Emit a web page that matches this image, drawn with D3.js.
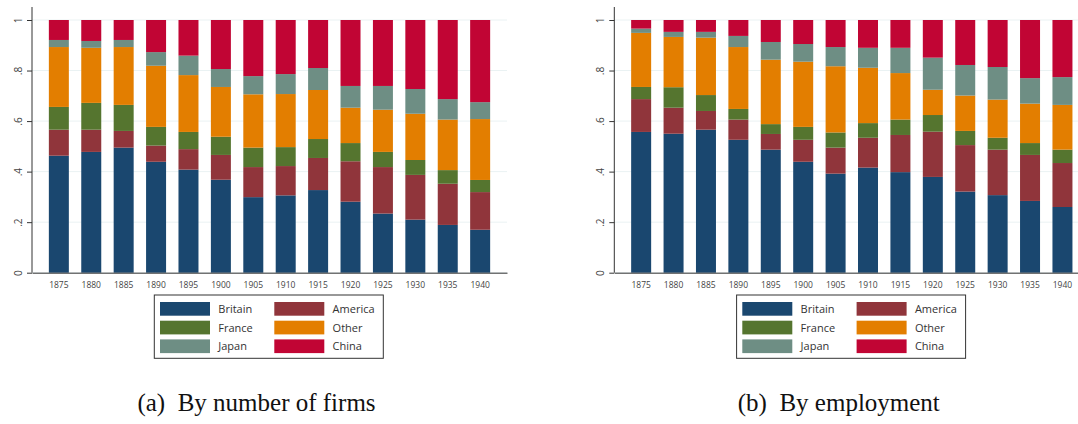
<!DOCTYPE html>
<html>
<head>
<meta charset="utf-8">
<script src="https://cdn.jsdelivr.net/npm/d3@7"></script>
<style>
  html, body { margin: 0; padding: 0; background: #fff; }
  svg { display: block; }
</style>
</head>
<body>
<svg id="chart" width="1078" height="424"></svg>
<script>
// Years on the category axis
const years = ["1875","1880","1885","1890","1895","1900","1905","1910","1915","1920","1925","1930","1935","1940"];

// Stack order, bottom to top
const countries = ["Britain","America","France","Other","Japan","China"];
const colors = ["#1a476f","#90353b","#55752f","#e37e00","#6e8e84","#c10534"];

// Share of foreign firms by nationality, by number of firms
const firmsBritain = [.463,.478,.495,.439,.408,.368,.299,.306,.327,.281,.234,.210,.189,.170];
const firmsAmerica = [.103,.088,.066,.064,.081,.098,.119,.116,.127,.160,.184,.177,.163,.149];
const firmsFrance  = [.090,.106,.103,.074,.068,.072,.077,.075,.075,.072,.060,.059,.054,.048];
const firmsOther   = [.237,.218,.229,.242,.225,.197,.211,.210,.194,.140,.167,.183,.200,.241];
const firmsJapan   = [.028,.027,.028,.054,.077,.071,.072,.079,.087,.086,.094,.098,.081,.067];
const firmsChina   = [.079,.083,.079,.127,.141,.194,.222,.214,.190,.261,.261,.273,.313,.325];

// Share of foreign firms by nationality, by employment
const empBritain = [.557,.550,.566,.526,.487,.439,.392,.416,.398,.379,.321,.307,.284,.260];
const empAmerica = [.130,.103,.074,.080,.062,.087,.103,.118,.147,.179,.184,.180,.182,.174];
const empFrance  = [.048,.081,.063,.042,.039,.051,.060,.058,.061,.066,.056,.047,.047,.053];
const empOther   = [.214,.199,.227,.245,.255,.258,.262,.219,.184,.100,.140,.151,.156,.177];
const empJapan   = [.017,.020,.023,.044,.070,.070,.076,.079,.100,.127,.121,.129,.101,.110];
const empChina   = [.034,.047,.047,.063,.087,.095,.107,.110,.110,.149,.178,.186,.230,.226];

const yTicks = [0, .2, .4, .6, .8, 1];
const yTickLabels = ["0", ".2", ".4", ".6", ".8", "1"];
const captions = ["(a)  By number of firms", "(b)  By employment"];

function rows(cols) {
  return years.map((yr, i) => {
    const r = { year: yr };
    countries.forEach((c, k) => { r[c] = cols[k][i]; });
    return r;
  });
}

const panels = [
  { data: rows([firmsBritain, firmsAmerica, firmsFrance, firmsOther, firmsJapan, firmsChina]), x0: 32, caption: captions[0] },
  { data: rows([empBritain, empAmerica, empFrance, empOther, empJapan, empChina]), x0: 614.3, caption: captions[1] }
];

const svg = d3.select("#chart");
const plotW = 475, plotTop = 20, plotBottom = 272.7;
const tickFont = "'Open Sans', 'Noto Sans', sans-serif";

const color = d3.scaleOrdinal().domain(countries).range(colors);
const y = d3.scaleLinear().domain([0, 1]).range([plotBottom, plotTop]);
const stack = d3.stack().keys(countries);

panels.forEach(p => {
  const g = svg.append("g");
  const x = d3.scaleBand().domain(years).range([p.x0, p.x0 + plotW])
    .paddingInner(0.383).paddingOuter(0.52);

  // horizontal grid
  g.append("g").selectAll("line").data(yTicks).join("line")
    .attr("x1", p.x0).attr("x2", p.x0 + plotW)
    .attr("y1", d => y(d)).attr("y2", d => y(d))
    .attr("stroke", "#eaf2f3").attr("stroke-width", 1);

  // stacked bars
  g.append("g").selectAll("g").data(stack(p.data)).join("g")
    .attr("fill", d => color(d.key))
    .selectAll("rect").data(d => d).join("rect")
      .attr("x", d => x(d.data.year))
      .attr("width", x.bandwidth())
      .attr("y", d => y(d[1]))
      .attr("height", d => y(d[0]) - y(d[1]));

  // y axis
  const yAxis = d3.axisLeft(y).tickValues(yTicks)
    .tickFormat((d, i) => yTickLabels[i]).tickSize(5).tickSizeOuter(0);
  const ya = g.append("g").attr("transform", `translate(${p.x0},0)`).call(yAxis);
  ya.select(".domain").attr("stroke", "#333").attr("d", `M0,${plotBottom}V7`);
  ya.selectAll(".tick line").attr("stroke", "#333");
  ya.selectAll(".tick text")
    .attr("font-family", tickFont).attr("font-size", 10).attr("fill", "#444")
    .attr("x", null).attr("dy", null)
    .attr("text-anchor", "middle")
    .attr("transform", "translate(-14,0) rotate(-90)")
    .attr("y", 3.5);

  // x axis
  const xAxis = d3.axisBottom(x).tickSize(0).tickSizeOuter(0).tickPadding(9);
  const xa = g.append("g").attr("transform", `translate(0,${plotBottom})`).call(xAxis);
  xa.select(".domain").attr("stroke", "#333");
  xa.selectAll(".tick text")
    .attr("font-family", tickFont).attr("font-size", 8.5).attr("fill", "#444");

  // legend
  const lx = p.x0 + 122.3, ly = 295;
  const lg = g.append("g").attr("transform", `translate(${lx},${ly})`);
  lg.append("rect").attr("x", 0).attr("y", 0).attr("width", 229).attr("height", 63.3)
    .attr("fill", "#fff").attr("stroke", "#333").attr("stroke-width", 1);
  const items = lg.selectAll("g.item").data(countries).join("g")
    .attr("class", "item")
    .attr("transform", (d, i) => `translate(${5.7 + (i % 2) * 114.3},${7 + Math.floor(i / 2) * 18.7})`);
  items.append("rect").attr("width", 50).attr("height", 13.7).attr("fill", d => color(d));
  items.append("text").attr("x", 58.3).attr("y", 11)
    .attr("font-family", tickFont).attr("font-size", 11).attr("fill", "#333")
    .text(d => d);

  // caption
  g.append("text")
    .attr("x", p.x0 + plotW / 2 - 13).attr("y", 411)
    .attr("text-anchor", "middle")
    .attr("font-family", "'Liberation Serif', 'Times New Roman', serif")
    .attr("font-size", 25).attr("fill", "#111")
    .attr("xml:space", "preserve")
    .style("white-space", "pre")
    .text(p.caption);
});
</script>
</body>
</html>
